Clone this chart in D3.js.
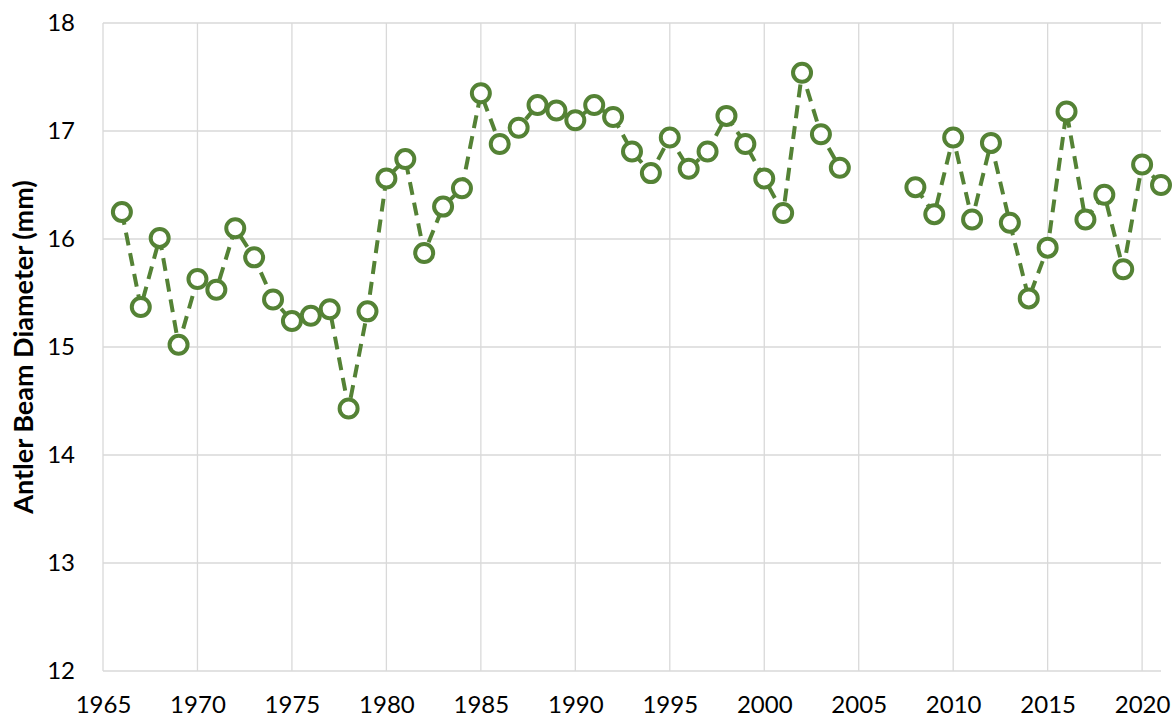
<!DOCTYPE html>
<html>
<head>
<meta charset="utf-8">
<script src="https://cdn.jsdelivr.net/npm/d3@7"></script>
<style>
  body { margin: 0; background: #fff; }
  svg { display: block; }
</style>
</head>
<body>
<svg id="chart"></svg>
<script>
// data (null = no survey that year)
var years = d3.range(1966, 2022);
var beamDiameter = [
    16.25, 15.37, 16.01, 15.02, 15.63, 15.53, 16.10, 15.83, 15.44, 15.24,
    15.29, 15.35, 14.43, 15.33, 16.56, 16.74, 15.87, 16.30, 16.47, 17.35,
    16.88, 17.03, 17.24, 17.19, 17.10, 17.24, 17.13, 16.81, 16.61, 16.94,
    16.65, 16.81, 17.14, 16.88, 16.56, 16.24, 17.54, 16.97, 16.66, null,
    null, null, 16.48, 16.23, 16.94, 16.18, 16.89, 16.15, 15.45, 15.92,
    17.18, 16.18, 16.41, 15.72, 16.69, 16.50
];
var xTicks = [1965, 1970, 1975, 1980, 1985, 1990, 1995, 2000, 2005, 2010, 2015, 2020];
var yTicks = [12, 13, 14, 15, 16, 17, 18];

var dataset = years.map((y, i) => ({ year: y, value: beamDiameter[i] }));

var dimensions = {
    width: 1176,
    height: 719,
    margin: { top: 23, bottom: 48, left: 103, right: 15 }
};

var green = "#548235";
var font = "Lato, 'Open Sans', sans-serif";

var svg = d3.select("#chart")
    .attr("width", dimensions.width)
    .attr("height", dimensions.height);

var xScale = d3.scaleLinear()
    .domain([1965, 2021])
    .range([dimensions.margin.left, dimensions.width - dimensions.margin.right]);

var yScale = d3.scaleLinear()
    .domain([12, 18])
    .range([dimensions.height - dimensions.margin.bottom, dimensions.margin.top]);

// gridlines
svg.append("g")
    .selectAll("line")
    .data(yTicks)
    .enter()
    .append("line")
    .attr("x1", xScale(1965))
    .attr("x2", xScale(2021))
    .attr("y1", d => yScale(d))
    .attr("y2", d => yScale(d))
    .attr("stroke", "#d9d9d9")
    .attr("stroke-width", 1.3);

svg.append("g")
    .selectAll("line")
    .data(xTicks)
    .enter()
    .append("line")
    .attr("x1", d => xScale(d))
    .attr("x2", d => xScale(d))
    .attr("y1", yScale(12))
    .attr("y2", yScale(18))
    .attr("stroke", "#d9d9d9")
    .attr("stroke-width", 1.3);

// axes (labels only)
var xAxis = svg.append("g")
    .attr("transform", `translate(0,${yScale(12)})`)
    .call(d3.axisBottom(xScale).tickValues(xTicks).tickFormat(d3.format("d")).tickSize(0).tickPadding(25));
xAxis.select(".domain").remove();
xAxis.selectAll("text")
    .attr("fill", "#000")
    .style("font-family", font)
    .style("font-size", "24px");

var yAxis = svg.append("g")
    .attr("transform", `translate(${xScale(1965)},0)`)
    .call(d3.axisLeft(yScale).tickValues(yTicks).tickFormat(d3.format("d")).tickSize(0).tickPadding(28));
yAxis.select(".domain").remove();
yAxis.selectAll("text")
    .attr("fill", "#000")
    .style("font-family", font)
    .style("font-size", "24px");

svg.append("text")
    .attr("transform", `translate(33,${(yScale(12) + yScale(18)) / 2}) rotate(-90)`)
    .attr("text-anchor", "middle")
    .attr("fill", "#000")
    .style("font-family", font)
    .style("font-weight", "bold")
    .style("font-size", "27px")
    .text("Antler Beam Diameter (mm)");

// dashed line, broken where there is no data
var line = d3.line()
    .defined(d => d.value !== null)
    .x(d => xScale(d.year))
    .y(d => yScale(d.value));

svg.append("path")
    .datum(dataset)
    .attr("d", line)
    .attr("fill", "none")
    .attr("stroke", green)
    .attr("stroke-width", 4)
    .attr("stroke-dasharray", "13,8");

svg.append("g")
    .selectAll("circle")
    .data(dataset.filter(d => d.value !== null))
    .enter()
    .append("circle")
    .attr("cx", d => xScale(d.year))
    .attr("cy", d => yScale(d.value))
    .attr("r", 9)
    .attr("fill", "#fff")
    .attr("stroke", green)
    .attr("stroke-width", 4);
</script>
</body>
</html>
